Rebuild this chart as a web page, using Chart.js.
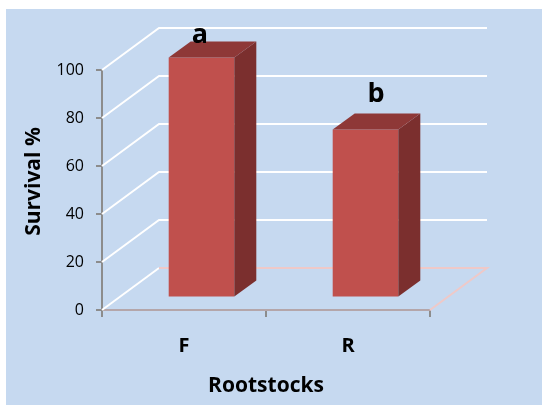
<!DOCTYPE html>
<html>
<head>
<meta charset="utf-8">
<script src="https://cdn.jsdelivr.net/npm/chart.js@4/dist/chart.umd.min.js"></script>
<style>
  html, body { margin: 0; padding: 0; background: #ffffff; }
  #wrap { width: 542px; height: 405px; position: relative; }
</style>
</head>
<body>
<div id="wrap"><canvas id="chart" width="542" height="405"></canvas></div>
<script>
// Survival of grafts per rootstock
const rootstocks = ['F', 'R'];
const survival = [100, 70];
const letters = ['a', 'b'];
const yTicks = [0, 20, 40, 60, 80, 100];

// 3D look: back wall depth, bar depth and bar placement inside the floor
const WALL = { dx: 57, dy: -42 };
const BAR_SHIFT = { dx: 17.5, dy: -12.5 };
const BAR_DEPTH = { dx: 22, dy: -16 };
const LETTER_NUDGE = [[-1.5, -14.5], [10.5, -27.5]];

const colors = {
  panel: '#C6D9F0',
  grid: '#FFFFFF',
  floorEdge: '#EFC9C8',
  front: '#C0504D',
  side: '#7B2F2E',
  top: '#8E3837',
  axis: '#8C8C8C',
  xAxis: '#B4A6AA'
};

Chart.defaults.font.family = "'Open Sans', 'Liberation Sans', sans-serif";

const box3d = {
  id: 'box3d',
  beforeDraw(chart) {
    const ctx = chart.ctx;
    ctx.save();
    ctx.fillStyle = colors.panel;
    ctx.fillRect(6, 9, 536, 396);
    ctx.restore();
  },
  beforeDatasetsDraw(chart) {
    const ctx = chart.ctx;
    const { left, right, bottom } = chart.chartArea;
    const y = chart.scales.y;
    ctx.save();
    ctx.lineWidth = 2;
    // side wall and back wall gridlines
    yTicks.forEach(v => {
      const py = y.getPixelForValue(v);
      ctx.strokeStyle = colors.grid;
      ctx.beginPath();
      ctx.moveTo(left, py);
      ctx.lineTo(left + WALL.dx, py + WALL.dy);
      if (v !== 0) ctx.lineTo(right + WALL.dx, py + WALL.dy);
      ctx.stroke();
    });
    // floor edges
    ctx.strokeStyle = colors.floorEdge;
    ctx.beginPath();
    ctx.moveTo(left + WALL.dx, bottom + WALL.dy);
    ctx.lineTo(right + WALL.dx, bottom + WALL.dy);
    ctx.lineTo(right, bottom);
    ctx.stroke();
    ctx.restore();
    // bars sit part-way into the floor
    ctx.save();
    ctx.translate(BAR_SHIFT.dx, BAR_SHIFT.dy);
  },
  afterDatasetsDraw(chart) {
    const ctx = chart.ctx;
    ctx.restore();
    const meta = chart.getDatasetMeta(0);
    meta.data.forEach((bar, i) => {
      const p = bar.getProps(['x', 'y', 'base', 'width'], true);
      const l = p.x - p.width / 2 + BAR_SHIFT.dx;
      const r = p.x + p.width / 2 + BAR_SHIFT.dx;
      const t = p.y + BAR_SHIFT.dy;
      const b = p.base + BAR_SHIFT.dy;
      ctx.save();
      // side face
      ctx.fillStyle = colors.side;
      ctx.beginPath();
      ctx.moveTo(r, t);
      ctx.lineTo(r + BAR_DEPTH.dx, t + BAR_DEPTH.dy);
      ctx.lineTo(r + BAR_DEPTH.dx, b + BAR_DEPTH.dy);
      ctx.lineTo(r, b);
      ctx.closePath();
      ctx.fill();
      // top face
      ctx.fillStyle = colors.top;
      ctx.beginPath();
      ctx.moveTo(l, t);
      ctx.lineTo(l + BAR_DEPTH.dx, t + BAR_DEPTH.dy);
      ctx.lineTo(r + BAR_DEPTH.dx, t + BAR_DEPTH.dy);
      ctx.lineTo(r, t);
      ctx.closePath();
      ctx.fill();
      // significance letter
      const n = LETTER_NUDGE[i] || [0, -14];
      ctx.fillStyle = '#000000';
      ctx.font = "bold 27px 'Open Sans', 'Liberation Sans', sans-serif";
      ctx.textAlign = 'center';
      ctx.textBaseline = 'alphabetic';
      ctx.fillText(letters[i], p.x + BAR_SHIFT.dx + n[0], t + n[1]);
      ctx.restore();
    });
  },
  afterDraw(chart) {
    // vertical axis title
    const ctx = chart.ctx;
    ctx.save();
    ctx.translate(40, 181.5);
    ctx.rotate(-Math.PI / 2);
    ctx.fillStyle = '#000000';
    ctx.font = "bold 21px 'Open Sans', 'Liberation Sans', sans-serif";
    ctx.textAlign = 'center';
    ctx.textBaseline = 'alphabetic';
    ctx.fillText('Survival %', 0, 0);
    ctx.restore();
  }
};

new Chart(document.getElementById('chart'), {
  type: 'bar',
  data: {
    labels: rootstocks,
    datasets: [{
      label: 'Survival %',
      data: survival,
      backgroundColor: colors.front,
      borderWidth: 0,
      barPercentage: 0.40,
      categoryPercentage: 1,
      clip: false
    }]
  },
  options: {
    responsive: false,
    animation: false,
    events: [],
    layout: { padding: { left: 0, top: 70, right: 112, bottom: 0 } },
    plugins: {
      legend: { display: false },
      tooltip: { enabled: false }
    },
    scales: {
      x: {
        offset: true,
        grid: {
          offset: true,
          drawOnChartArea: false,
          drawTicks: true,
          tickLength: 7,
          color: colors.axis,
          lineWidth: 2
        },
        border: { color: colors.xAxis, width: 2 },
        ticks: {
          color: '#000000',
          padding: 17,
          font: { size: 20, weight: 'bold' }
        },
        title: {
          display: true,
          text: 'Rootstocks',
          color: '#000000',
          font: { size: 21, weight: 'bold' },
          padding: { top: 0, bottom: 6 }
        },
        afterFit(scale) { scale.height = 95; }
      },
      y: {
        min: 0,
        max: 100,
        grid: {
          drawOnChartArea: false,
          drawTicks: true,
          tickLength: 6,
          color: colors.axis,
          lineWidth: 2
        },
        border: { color: colors.axis, width: 2 },
        ticks: {
          stepSize: 20,
          color: '#000000',
          padding: 12,
          font: { size: 16 }
        },
        afterFit(scale) { scale.width = 102; }
      }
    }
  },
  plugins: [box3d]
});
</script>
</body>
</html>
